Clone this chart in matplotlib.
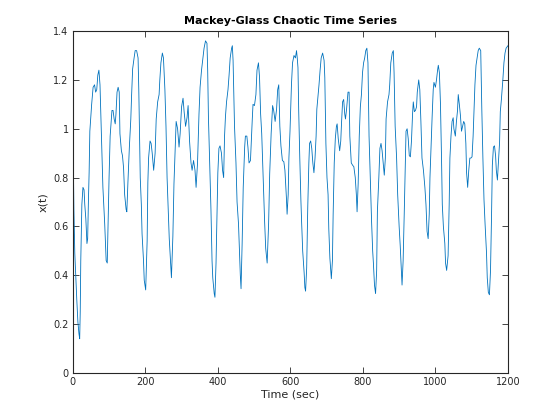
import matplotlib
matplotlib.use("Agg")
import matplotlib.pyplot as plt
import numpy as np

# points (time in s, x(t))
t_sec = [
    0, 1, 3, 5.5, 8, 11, 14, 17, 19, 20.5, 22, 25, 28, 31, 33, 36, 39, 41, 43, 45,
    47, 52, 56, 60, 63, 66, 69, 72, 75, 78, 81, 83, 86, 88, 90, 92, 95, 97, 100, 103,
    106, 108, 111, 114, 117, 119, 122, 125, 128, 130, 134, 137, 140, 143, 147, 149, 152, 156, 160, 162,
    165, 169, 172, 176, 180, 182, 184, 186, 189, 191, 195, 197, 201, 205, 207, 209, 213, 216, 219, 223,
    227, 230, 234, 238, 240, 243, 247, 250, 254, 257, 260, 263, 266, 269, 272, 276, 279, 282, 285, 289,
    293, 296, 300, 304, 307, 311, 315, 318, 322, 326, 329, 333, 337, 340, 344, 348, 351, 355, 359, 362,
    366, 370, 372, 374, 378, 381, 384, 386, 390, 392, 395, 397, 400, 403, 406, 410, 413, 416, 418.5, 421,
    424, 428, 431, 434, 438, 440, 442, 446, 450, 453, 457, 460, 462, 464, 467, 470, 474, 476, 480, 483,
    486, 490, 492, 495, 497, 501, 505, 508, 512, 515, 518, 521, 525, 529, 532, 536, 540, 543, 547, 551,
    554, 558, 562, 565, 568, 571, 574, 578, 582, 585, 589, 591, 594, 596, 599, 603, 606, 610, 614, 617,
    619, 621, 623, 626, 629, 631, 634, 638, 640, 642, 645, 648, 651, 653, 656, 659, 662, 665, 668, 671,
    673, 676, 679, 682, 685, 689, 693, 695, 698, 701, 704, 706, 709, 713, 716, 718, 721, 724, 727, 729,
    732, 736, 739, 741, 744, 747, 750, 752, 755, 759, 762, 764, 768, 772, 775, 779, 782, 784, 787, 790,
    793, 796, 799, 802, 805, 808, 811, 814, 817, 821, 824, 827, 829, 832, 835, 838, 840, 844, 847, 850,
    853, 856, 859, 862, 864, 868, 872, 874, 877, 881, 884, 886, 889, 893, 896, 900, 903, 906, 908, 911,
    914, 917, 919, 922, 925, 928, 931, 934, 937, 939, 942, 945, 948, 950, 954, 957, 960, 963, 967, 971,
    974, 977, 980, 983, 985, 988, 991, 994, 996, 1000, 1003, 1006, 1008, 1011, 1014, 1017, 1019, 1022, 1026, 1028,
    1031, 1035, 1038, 1040, 1043, 1046, 1049, 1051, 1055, 1058, 1061, 1063, 1066, 1069, 1072, 1075, 1078, 1081, 1084, 1086,
    1089, 1092, 1095, 1098, 1101, 1104, 1107, 1109, 1112, 1115, 1118, 1121, 1125, 1128, 1131, 1134, 1137, 1141, 1143, 1146,
    1149, 1152, 1155, 1157, 1160, 1163, 1166, 1168, 1171, 1174, 1177, 1179, 1182, 1186, 1189, 1192, 1195, 1200,
]
x_val = [
    1.09, 0.93, 0.67, 0.49, 0.40, 0.30, 0.21, 0.16, 0.14, 0.25, 0.46, 0.69, 0.76, 0.75, 0.69, 0.63, 0.53, 0.55, 0.70, 0.82,
    0.99, 1.10, 1.17, 1.18, 1.15, 1.16, 1.22, 1.24, 1.18, 1.02, 0.86, 0.76, 0.67, 0.61, 0.53, 0.46, 0.45, 0.59, 0.80, 0.97,
    1.03, 1.075, 1.075, 1.04, 1.02, 1.06, 1.15, 1.17, 1.15, 0.98, 0.91, 0.89, 0.84, 0.73, 0.67, 0.66, 0.78, 0.925, 1.04, 1.13,
    1.245, 1.29, 1.32, 1.32, 1.29, 1.16, 0.99, 0.80, 0.69, 0.57, 0.46, 0.38, 0.34, 0.54, 0.78, 0.88, 0.95, 0.94, 0.90, 0.83,
    0.90, 1.04, 1.11, 1.14, 1.20, 1.27, 1.31, 1.29, 1.16, 1.01, 0.80, 0.67, 0.55, 0.47, 0.39, 0.56, 0.775, 0.90, 1.03, 1.00,
    0.925, 0.98, 1.09, 1.125, 1.07, 1.01, 1.045, 1.095, 0.95, 0.86, 0.83, 0.87, 0.83, 0.76, 0.86, 1.06, 1.17, 1.24, 1.29, 1.33,
    1.36, 1.35, 1.24, 1.05, 0.83, 0.67, 0.46, 0.39, 0.325, 0.31, 0.45, 0.60, 0.82, 0.92, 0.93, 0.90, 0.83, 0.80, 0.97, 1.05,
    1.11, 1.16, 1.22, 1.29, 1.33, 1.34, 1.28, 1.01, 0.86, 0.70, 0.61, 0.49, 0.40, 0.345, 0.53, 0.76, 0.925, 0.97, 0.97, 0.925,
    0.86, 0.87, 0.94, 1.04, 1.10, 1.095, 1.14, 1.24, 1.27, 1.21, 1.06, 0.98, 0.80, 0.62, 0.51, 0.45, 0.61, 0.815, 0.98, 1.095,
    1.075, 1.03, 1.08, 1.16, 1.18, 1.01, 0.93, 0.87, 0.865, 0.83, 0.72, 0.65, 0.73, 0.88, 0.99, 1.18, 1.27, 1.30, 1.29, 1.32,
    1.29, 1.25, 1.075, 0.88, 0.71, 0.62, 0.50, 0.41, 0.35, 0.335, 0.43, 0.68, 0.86, 0.94, 0.95, 0.92, 0.86, 0.82, 0.88, 0.97,
    1.08, 1.13, 1.18, 1.24, 1.29, 1.31, 1.28, 1.21, 0.94, 0.80, 0.73, 0.59, 0.47, 0.386, 0.46, 0.65, 0.86, 0.96, 1.01, 1.02,
    0.96, 0.91, 0.95, 1.02, 1.11, 1.12, 1.06, 1.04, 1.08, 1.15, 1.15, 0.97, 0.86, 0.85, 0.845, 0.80, 0.73, 0.66, 0.775, 0.97,
    1.09, 1.14, 1.23, 1.27, 1.29, 1.32, 1.33, 1.27, 0.97, 0.77, 0.62, 0.50, 0.45, 0.36, 0.325, 0.42, 0.66, 0.80, 0.92, 0.94,
    0.91, 0.86, 0.81, 0.88, 1.04, 1.11, 1.14, 1.18, 1.27, 1.31, 1.32, 1.23, 1.01, 0.88, 0.73, 0.60, 0.52, 0.42, 0.36, 0.46,
    0.65, 0.86, 0.99, 1.00, 0.96, 0.89, 0.885, 0.95, 1.06, 1.11, 1.07, 1.075, 1.09, 1.15, 1.20, 1.16, 1.03, 0.88, 0.83, 0.76,
    0.69, 0.58, 0.55, 0.65, 0.80, 0.93, 1.05, 1.16, 1.19, 1.17, 1.20, 1.24, 1.26, 1.23, 1.10, 0.87, 0.69, 0.60, 0.53, 0.45,
    0.42, 0.48, 0.69, 0.88, 0.97, 1.03, 1.045, 1.00, 0.97, 1.03, 1.075, 1.14, 1.10, 1.055, 0.99, 1.01, 1.03, 1.02, 0.94, 0.82,
    0.76, 0.83, 0.88, 0.88, 0.885, 0.97, 1.095, 1.18, 1.26, 1.29, 1.32, 1.33, 1.32, 1.08, 0.88, 0.71, 0.61, 0.49, 0.39, 0.33,
    0.32, 0.42, 0.66, 0.85, 0.925, 0.93, 0.89, 0.83, 0.79, 0.87, 0.945, 1.07, 1.12, 1.20, 1.27, 1.31, 1.33, 1.34,
]

x_ticks = [0, 200, 400, 600, 800, 1000, 1200]
y_ticks = [0, 0.2, 0.4, 0.6, 0.8, 1.0, 1.2, 1.4]
y_tick_labels = ["0", "0.2", "0.4", "0.6", "0.8", "1", "1.2", "1.4"]

AX_COLOR = "#262626"

fig = plt.figure(figsize=(5.6, 4.2), dpi=100)
ax = fig.add_axes([0.13, 0.112, 0.777, 0.814])

ax.plot(t_sec, x_val, color="#0072BD", linewidth=0.6)

ax.set_xlim(0, 1200)
ax.set_ylim(0, 1.4)
ax.set_xticks(x_ticks)
ax.set_yticks(y_ticks)
ax.set_yticklabels(y_tick_labels)

ax.tick_params(direction="in", length=4, width=0.6, top=True, right=True,
               labelsize=7, colors=AX_COLOR, pad=3)
for spine in ax.spines.values():
    spine.set_color(AX_COLOR)
    spine.set_linewidth(0.8)

ax.set_xlabel("Time (sec)", fontsize=8, color=AX_COLOR, labelpad=2)
ax.set_ylabel("x(t)", fontsize=8, color=AX_COLOR, labelpad=4)
ax.set_title("Mackey-Glass Chaotic Time Series", fontsize=8, fontweight="bold", pad=5)

fig.savefig("out.png", dpi=100)
plt.close(fig)
